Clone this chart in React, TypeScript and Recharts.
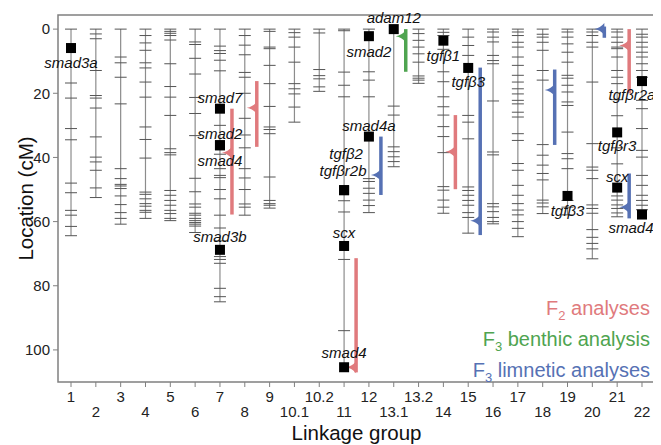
import React from "react";
import { ComposedChart, XAxis, YAxis, Scatter, ReferenceLine, ReferenceArea, Label } from "recharts";

const GROUPS = ["1", "2", "3", "4", "5", "6", "7", "8", "9", "10.1", "10.2", "11", "12", "13.1", "13.2", "14", "15", "16", "17", "18", "19", "20", "21", "22"];

// marker positions (cM) per linkage group, same order as GROUPS
const MARKERS: number[][] = [
  [0, 16.8, 21.5, 31, 34.5, 48, 51, 56.5, 58, 61.5, 64.4],
  [0, 1.5, 3, 12.9, 20.7, 21.5, 24.6, 33.6, 39.9, 41.4, 44, 49.5, 52.5],
  [0, 8.7, 10.5, 15, 23.3, 43.5, 46.6, 48.4, 48.9, 49.7, 52, 54.7, 57.2, 59, 60.8],
  [0, 2, 4.3, 6.6, 10.5, 12.1, 16.5, 21.2, 30.5, 34.4, 40.2, 50.8, 51.5, 52.9, 54.4, 55.2, 56.5, 57.1, 59],
  [0, 0.7, 1.3, 2, 3.4, 10.8, 17.9, 21.2, 26.9, 37.3, 38.5, 39.2, 50.3, 51.8, 53.4, 54.9, 56.5, 57.5, 59, 59.7],
  [0, 4, 4.8, 9.1, 14, 21.3, 26.3, 33.2, 46.5, 50.7, 54.5, 55.5, 57.4, 58, 59, 59.7, 60.3, 60.8, 61.4, 63.4],
  [0, 5.3, 6.7, 7.6, 9.7, 13, 30, 39, 43.5, 45.6, 46.3, 50, 52.9, 58, 62, 66, 70.9, 71.8, 73, 80.8, 83.4, 85],
  [0, 2, 5, 8, 13.5, 15, 20, 27.8, 33, 37, 43.5, 46.4, 50, 54.5, 55.5, 58],
  [0, 0.7, 5.6, 6.1, 11.3, 17, 24.1, 30.5, 31.3, 32.6, 46.1, 53.4, 54.4, 54.9, 55.8],
  [0, 1.1, 2.5, 5.6, 10.3, 17, 18.6, 20.2, 24.3, 29],
  [0, 1.2, 12.6, 14.5, 15.5, 18, 19.4],
  [0, 0.5, 13.4, 17.5, 21.1, 53.5, 57, 71.8, 94],
  [0, 13.3, 15.9, 21.1, 46.6, 47.5, 49.6, 51.2, 53.3, 55, 57.2],
  [24, 26.8, 36.7, 38.2, 39.8, 41.3, 42.9],
  [0, 1.4, 3.5, 5.6, 7.7, 10.3, 14.6, 15.3, 15.9, 16.9],
  [0, 1, 2, 6.3, 13.3, 16.4, 21.1, 24.2, 26.8, 30.4, 33.5, 38.5, 49.1, 50.2, 53.3, 55.5, 57.4],
  [0, 2.5, 5.1, 8.2, 26.9, 29, 34.2, 49.2, 50.3, 51.8, 53.4, 54.9, 57.2, 58.7, 63.6],
  [0, 0.9, 2.5, 4, 8.2, 9.8, 10.8, 22.4, 38.3, 39.2, 54.4, 55.4, 56.9, 58.7, 60, 60.7],
  [0, 0.9, 2, 4.1, 5.6, 8.7, 11.3, 14.4, 16.5, 18.6, 20.2, 22.2, 23.3, 25.9, 27.4, 32.6, 34.7, 41.9, 44, 48.7, 51.8, 54.4, 56.4, 57.9, 60, 62.1, 64.7],
  [0, 1.6, 2.5, 4.1, 6.6, 12.9, 15.9, 36, 39.3, 42.4, 45, 47, 53.3, 54.2, 55.4, 57.5],
  [0, 0.9, 2.5, 4.6, 7.2, 10.3, 14.4, 15.3, 17.5, 19.6, 22.7, 23.8, 32.1, 38.8, 40.4, 43.5, 53.4, 55.5, 57.9],
  [0, 0.9, 2, 4.1, 5.6, 16.5, 35.7, 43, 44, 46.6, 54.8, 55.9, 57.4, 62.5, 64.9, 66.8, 68.5, 71.6],
  [0, 0.9, 2.5, 4.1, 5.6, 6.1, 8.7, 12.9, 15, 17, 22, 27, 37, 42, 52, 53.3, 54.8, 55.9, 57.3, 58.5],
  [0, 1.6, 2.5, 4.1, 5.6, 7.2, 8.7, 10.8, 12.9, 15, 22.2, 24.8, 31, 37.8, 39.9, 45.6, 48.7, 51.8, 53.4, 54.9, 56.3],
];

const GENE_NAMES = ["smad3a", "smad7", "smad2", "smad4", "smad3b", "tgfβ2", "tgfβr2b", "scx", "smad4", "smad2", "smad4a", "adam12", "tgfβ1", "tgfβ3", "tgfβ3", "tgfβr2a", "tgfβr3", "scx", "smad4"];
const GENE_GROUPS = ["1", "7", "7", "7", "7", "11", "11", "11", "11", "12", "12", "13.1", "14", "15", "19", "22", "21", "21", "22"];
const GENE_POS = [5.9, 24.8, 36.2, 36.2, 68.8, 50.2, 50.2, 67.6, 105.4, 2.2, 33.5, 0, 3.6, 12.1, 52, 16.2, 32.2, 49.4, 57.8];
// label placement in px relative to the square
const GENE_LABEL = [
  { dx: 0, dy: 20 }, { dx: 0, dy: -6 }, { dx: 0, dy: -6 }, { dx: 0, dy: 21 }, { dx: 0, dy: -8 },
  { dx: 2, dy: -31 }, { dx: -1, dy: -14 }, { dx: 0, dy: -8 }, { dx: 0, dy: -9 }, { dx: 0, dy: 21 },
  { dx: 0, dy: -6 }, { dx: 0, dy: -6 }, { dx: 0, dy: 20 }, { dx: 0, dy: 19 }, { dx: 0, dy: 20 },
  { dx: -10, dy: 19 }, { dx: 0, dy: 19 }, { dx: 0, dy: -6 }, { dx: -11, dy: 18 },
];

const QTL_GROUPS = ["7", "8", "11", "14", "21", "13.1", "12", "15", "18", "20", "21"];
const QTL_TYPE = ["F2", "F2", "F2", "F2", "F2", "F3b", "F3l", "F3l", "F3l", "F3l", "F3l"];
const QTL_START = [24.8, 16.2, 71.4, 26.8, 0, 0, 33.5, 12, 12.6, -0.8, 45];
const QTL_END = [57.8, 36.7, 107, 49.9, 20, 13.3, 51.7, 64.2, 36.1, 2.7, 59];
const QTL_PEAK = [38.5, 24.5, 105.4, 38.2, 5.1, 2.2, 45.5, 59.7, 19, 0, 55.5];

const Y_TICKS = [0, 20, 40, 60, 80, 100];

const COLORS: Record<string, string> = { F2: "#E07A7D", F3b: "#4FA450", F3l: "#5671B4" };
const AXIS = "#808080";
const FONT = '"Liberation Sans", Arial, Helvetica, sans-serif';
const QTL_SHIFT = 12;

const gx = (g: string) => GROUPS.indexOf(g) + 1;

const markerData = MARKERS.flatMap((list, i) => list.map((y) => ({ x: i + 1, y })));
const geneData = GENE_NAMES.map((name, i) => ({ x: gx(GENE_GROUPS[i]), y: GENE_POS[i], name, i }));
const peakData = QTL_GROUPS.map((g, i) => ({ x: gx(g), y: QTL_PEAK[i], type: QTL_TYPE[i] }));
const chromEnds = GROUPS.map((g, i) => {
  const genes = GENE_POS.filter((_, j) => GENE_GROUPS[j] === g);
  return Math.max(...MARKERS[i], ...genes);
});

const MarkerTick = (props: any) => {
  const { cx, cy } = props;
  return <line x1={cx - 6} x2={cx + 6} y1={cy} y2={cy} stroke="#555" strokeWidth={1} />;
};

const GeneMark = (props: any) => {
  const { cx, cy, payload } = props;
  const lay = GENE_LABEL[payload.i];
  return (
    <g>
      <rect x={cx - 5} y={cy - 5} width={10} height={10} fill="#000" />
      <text x={cx + lay.dx} y={cy + lay.dy} textAnchor="middle" fontStyle="italic" fontSize={15} fill="#111">
        {payload.name}
      </text>
    </g>
  );
};

const PeakFlag = (props: any) => {
  const { cx, cy, payload } = props;
  const bx = cx + QTL_SHIFT;
  return (
    <path
      d={`M${bx},${cy - 6} Q${bx - 4},${cy - 1} ${bx - 10},${cy} Q${bx - 4},${cy + 1} ${bx},${cy + 6} Z`}
      fill={COLORS[payload.type]}
    />
  );
};

const GroupTick = (props: any) => {
  const { x, y, payload } = props;
  const upper = payload.value % 2 === 1;
  return (
    <text x={x} y={y + (upper ? 14.7 : 29.7)} textAnchor="middle" fontSize={15} fill="#222">
      {GROUPS[payload.value - 1]}
    </text>
  );
};

export default function App() {
  return (
    <div style={{ position: "relative", width: 653, height: 437, fontFamily: FONT }}>
      <ComposedChart width={653} height={437} margin={{ top: 7, right: 6, left: 8, bottom: 13 }}>
        <XAxis
          type="number"
          dataKey="x"
          domain={[0.476, 24.524]}
          ticks={GROUPS.map((_, i) => i + 1)}
          interval={0}
          axisLine={false}
          tickLine={{ stroke: AXIS }}
          tickSize={5}
          tickMargin={0}
          tick={<GroupTick />}
          height={50}
        >
          <Label
            content={(p: any) => (
              <text x={p.viewBox.x + p.viewBox.width / 2} y={p.viewBox.y + 58} textAnchor="middle" fontSize={20.5} fill="#111">
                Linkage group
              </text>
            )}
          />
        </XAxis>
        <YAxis
          type="number"
          dataKey="y"
          reversed
          domain={[-4.4, 110]}
          ticks={Y_TICKS}
          axisLine={false}
          tickLine={{ stroke: AXIS }}
          tickSize={5}
          tickMargin={3}
          tick={{ fontSize: 15, fill: "#222" }}
          width={42}
        >
          <Label
            content={(p: any) => {
              const cx = p.viewBox.x + 17;
              const cy = p.viewBox.y + p.viewBox.height / 2;
              return (
                <text x={cx} y={cy} transform={`rotate(-90, ${cx}, ${cy})`} textAnchor="middle" fontSize={20.5} fill="#111">
                  Location (cM)
                </text>
              );
            }}
          />
        </YAxis>

        <ReferenceArea
          x1={0.476}
          x2={24.524}
          y1={-4.4}
          y2={110}
          fill="none"
          fillOpacity={0}
          stroke={AXIS}
          strokeWidth={1.5}
          ifOverflow="visible"
        />

        {GROUPS.map((g, i) => (
          <ReferenceLine
            key={"c" + g}
            segment={[{ x: i + 1, y: 0 }, { x: i + 1, y: chromEnds[i] }]}
            stroke="#8c8c8c"
            strokeWidth={1.2}
            ifOverflow="visible"
          />
        ))}

        {QTL_GROUPS.map((g, i) => (
          <ReferenceLine
            key={"q" + i}
            segment={[{ x: gx(g), y: QTL_START[i] }, { x: gx(g), y: QTL_END[i] }]}
            ifOverflow="visible"
            shape={(p: any) => (
              <line
                x1={p.x1 + QTL_SHIFT}
                y1={p.y1}
                x2={p.x2 + QTL_SHIFT}
                y2={p.y2}
                stroke={COLORS[QTL_TYPE[i]]}
                strokeWidth={3.5}
              />
            )}
          />
        ))}

        <Scatter data={markerData} dataKey="y" shape={<MarkerTick />} isAnimationActive={false} />
        <Scatter data={peakData} dataKey="y" shape={<PeakFlag />} isAnimationActive={false} />
        <Scatter data={geneData} dataKey="y" shape={<GeneMark />} isAnimationActive={false} />
      </ComposedChart>

      <div
        style={{
          position: "absolute",
          right: 11,
          top: 286,
          textAlign: "right",
          fontSize: 20,
          lineHeight: "28px",
          whiteSpace: "nowrap",
        }}
      >
        <div style={{ color: COLORS.F2 }}>
          F<span style={{ fontSize: 13, position: "relative", top: 5 }}>2</span> analyses
        </div>
        <div style={{ color: COLORS.F3b }}>
          F<span style={{ fontSize: 13, position: "relative", top: 5 }}>3</span> benthic analysis
        </div>
        <div style={{ color: COLORS.F3l }}>
          F<span style={{ fontSize: 13, position: "relative", top: 5 }}>3</span> limnetic analyses
        </div>
      </div>
    </div>
  );
}
